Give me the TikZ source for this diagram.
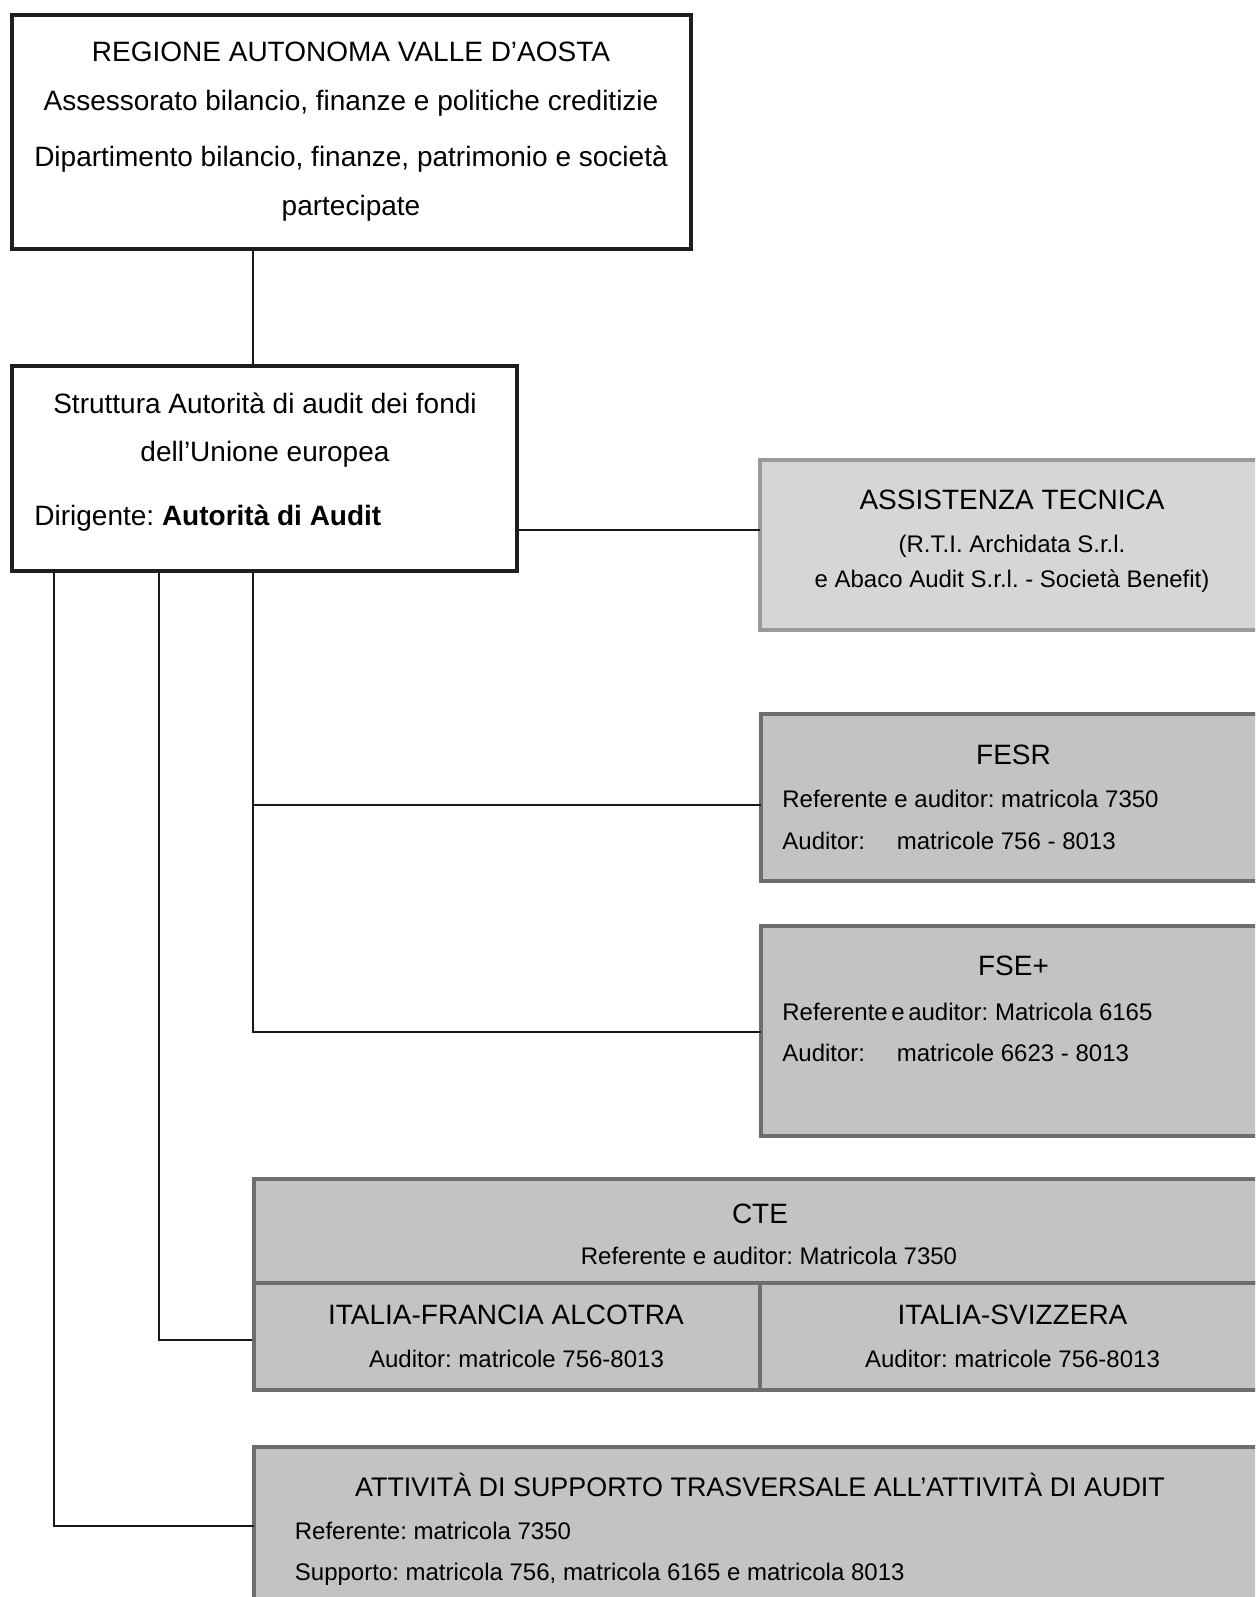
\documentclass[tikz,border=0pt]{standalone}
\usepackage{fontspec}
\setmainfont{Liberation Sans}
\definecolor{boxfill}{HTML}{C3C3C3}
\definecolor{boxedge}{HTML}{6E6E6E}
\definecolor{lightfill}{HTML}{D6D6D6}
\definecolor{lightedge}{HTML}{9A9A9A}
\definecolor{darkedge}{HTML}{1E1E1E}
\frenchspacing
\begin{document}
\frenchspacing
\begin{tikzpicture}[x=0.5pt,y=-0.5pt,
  blackbox/.style={draw=darkedge, line width=2.25pt, fill=white, inner sep=0pt, outer sep=0pt, anchor=north west},
  graybox/.style={draw=boxedge, line width=2.25pt, fill=boxfill, inner sep=0pt, outer sep=0pt, anchor=north west},
  lightbox/.style={draw=lightedge, line width=2.25pt, fill=lightfill, inner sep=0pt, outer sep=0pt, anchor=north west},
  conn/.style={line width=1pt, draw=black!90},
  ttl/.style={font=\fontsize{14}{16}\selectfont, inner sep=0pt, anchor=base},
  sub/.style={font=\fontsize{12}{14}\selectfont, inner sep=0pt, anchor=base},
  subl/.style={font=\fontsize{12}{14}\selectfont, inner sep=0pt, anchor=base west},
  ttll/.style={font=\fontsize{14}{16}\selectfont, inner sep=0pt, anchor=base west}]
\clip (0,0) rectangle (1255,1597);
\fill[white] (0,0) rectangle (1255,1597);

% columns of the connectors
\coordinate (colA) at (54,0);
\coordinate (colB) at (159,0);
\coordinate (colC) at (253,0);

% boxes
\node[blackbox, minimum width=339.5pt, minimum height=117pt] (top) at (12,15) {};
\node[blackbox, minimum width=252.5pt, minimum height=102.5pt] (strut) at (12,366) {};
\node[lightbox, minimum width=270pt, minimum height=85pt] (assist) at (760,460) {};
\node[graybox, minimum width=270pt, minimum height=83.5pt] (fesr) at (761,714) {};
\node[graybox, minimum width=270pt, minimum height=105pt] (fse) at (761,926) {};
\node[graybox, minimum width=523pt, minimum height=52pt] (cte) at (254,1179) {};
\node[graybox, minimum width=253pt, minimum height=53.5pt] (itfr) at (254,1283) {};
\node[graybox, minimum width=270pt, minimum height=53.5pt] (itch) at (760,1283) {};
\node[graybox, minimum width=523pt, minimum height=101.5pt] (att) at (254,1447) {};

% connector end points on the boxes
\coordinate (aIn) at ([yshift=7.6pt]assist.west);
\coordinate (fesrIn) at ([yshift=-3.75pt]fesr.west);
\coordinate (fseIn) at ([yshift=-0.5pt]fse.west);
\coordinate (ifIn) at ([yshift=-1.75pt]itfr.west);
\coordinate (attIn) at ([yshift=11.5pt]att.west);

% connectors
\draw[conn] (top.south -| colC) -- (strut.north -| colC);
\draw[conn] (strut.east |- aIn) -- (aIn);
\draw[conn] (strut.south -| colC) |- (fseIn);
\draw[conn] (colC |- fesrIn) -- (fesrIn);
\draw[conn] (strut.south -| colB) |- ([xshift=-1pt]ifIn);
\draw[conn] (strut.south -| colA) |- (attIn);

% texts
\node[ttl] (t1) at (351,61) {REGIONE AUTONOMA VALLE D’AOSTA};
\node[ttl] (t2) at (351,110) {Assessorato bilancio, finanze e politiche creditizie};
\node[ttl] (t3) at (351,166) {Dipartimento bilancio, finanze, patrimonio e società};
\node[ttl] (t4) at (351,215) {partecipate};

\node[ttl] (s1) at (265,413) {Struttura Autorità di audit dei fondi};
\node[ttl] (s2) at (265,461) {dell’Unione europea};
\node[ttll] (s3) at (34,525) {Dirigente: \textbf{Autorità di Audit}};

\node[ttl] (a1) at (1012,509) {ASSISTENZA TECNICA};
\node[sub] (a2) at (1012,552.5) {(R.T.I. Archidata S.r.l.};
\node[sub] (a3) at (1012,587) {e Abaco Audit S.r.l. - Società Benefit)};

\node[ttl] (f1) at (1013.5,764) {FESR};
\node[subl] (f2) at (782,807) {Referente e auditor: matricola 7350};
\node[subl] (f3) at (782,849) {Auditor:};
\node[subl] (f4) at (896.5,849) {matricole 756 - 8013};

\node[ttl] (e1) at (1013.5,975) {FSE+};
\node[subl] (e2) at (782,1020) {Referente\hspace{0.15em}e\hspace{0.15em}auditor: Matricola 6165};
\node[subl] (e3) at (782,1061) {Auditor:};
\node[subl] (e4) at (896.5,1061) {matricole 6623 - 8013};

\node[ttl] (c1) at (760,1223) {CTE};
\node[sub] (c2) at (769,1264.5) {Referente e auditor: Matricola 7350};

\node[ttl] (i1) at (506,1324) {ITALIA-FRANCIA ALCOTRA};
\node[sub] (i2) at (516.5,1367.5) {Auditor: matricole 756-8013};
\node[ttl] (i3) at (1012.5,1324) {ITALIA-SVIZZERA};
\node[sub] (i4) at (1012.5,1367.5) {Auditor: matricole 756-8013};

\node[ttl, font=\fontsize{13.45}{16}\selectfont] (v1) at (760,1496) {ATTIVITÀ DI SUPPORTO TRASVERSALE ALL’ATTIVITÀ DI AUDIT};
\node[subl] (v2) at (294.5,1539.5) {Referente: matricola 7350};
\node[subl] (v3) at (294.5,1580.5) {Supporto: matricola 756, matricola 6165 e matricola 8013};
\end{tikzpicture}
\end{document}
